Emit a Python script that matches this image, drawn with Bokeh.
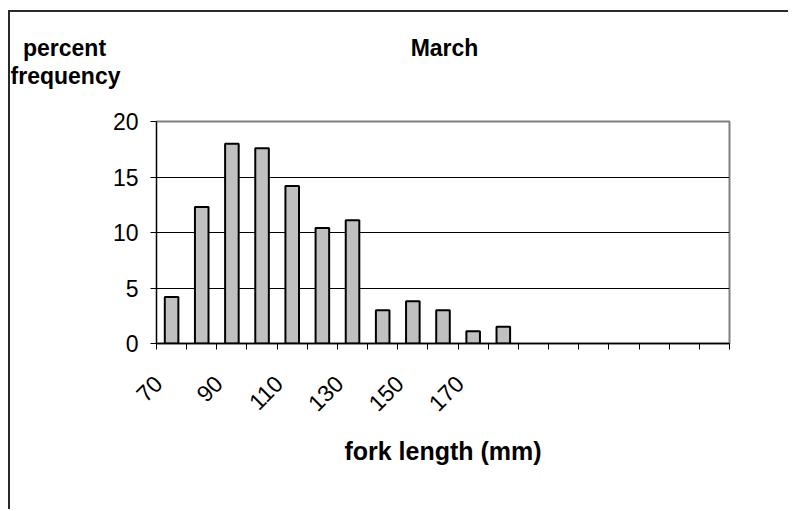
import math
from bokeh.plotting import figure
from bokeh.layouts import column
from bokeh.models import Range1d, FixedTicker, Label, ColumnDataSource
from bokeh.embed import file_html
from bokeh.resources import INLINE

# ---- data ----
categories = ["70", "80", "90", "100", "110", "120", "130", "140", "150", "160", "170", "180",
              "190", "200", "210", "220", "230", "240", "250"]
percent = [4.2, 12.3, 18.0, 17.6, 14.2, 10.4, 11.1, 3.0, 3.8, 3.0, 1.1, 1.5]
tick_labels = ["70", "", "90", "", "110", "", "130", "", "150", "", "170", "",
               "", "", "", "", "", "", ""]
y_ticks = [0, 5, 10, 15, 20]
title_text = "March"
y_title_lines = ["percent", "frequency"]
x_title = "fork length (mm)"

FONT = "Liberation Sans"
n = len(categories)
centers = [i + 0.5 for i in range(n)]
label_pos = [c - 0.45 for c in centers]   # rotated labels sit left of centre, as in the original

W = 778
TOP_H = 89
MAIN_H = 408

# ---- header strip holding the title and the horizontal y-axis title ----
top = figure(width=W, height=TOP_H, x_range=Range1d(0, W), y_range=Range1d(TOP_H, 0),
             output_backend="svg", toolbar_location=None, x_axis_type=None, y_axis_type=None,
             min_border=0, min_border_left=0, min_border_right=0, min_border_top=0,
             min_border_bottom=0, title=None)
try:
    top.frame_align = False
except Exception:
    pass
top.outline_line_color = None
top.xgrid.visible = False
top.ygrid.visible = False
top.border_fill_color = "white"
top.background_fill_color = "white"

header = [(y_title_lines[0], 54, 35), (y_title_lines[1], 55, 63), (title_text, 434, 35)]
for txt, xx, yy in header:
    top.add_layout(Label(x=xx, y=yy, text=txt, text_align="center", text_baseline="middle",
                         text_font=FONT, text_font_size="23px", text_font_style="bold",
                         text_color="black"))

# ---- main chart ----
src = ColumnDataSource(dict(x=centers[:len(percent)], top=percent, cat=categories[:len(percent)]))

p = figure(width=W, height=MAIN_H, x_range=Range1d(0, n), y_range=Range1d(0, 20),
           output_backend="svg", toolbar_location=None, title=None,
           min_border_left=146, min_border_top=20, min_border_right=59, min_border_bottom=166)
try:
    p.frame_align = False
except Exception:
    pass

p.vbar(x="x", top="top", width=0.45, bottom=0, source=src,
       fill_color="#C0C0C0", line_color="black", line_width=2)

p.outline_line_color = "#808080"
p.outline_line_width = 2
p.background_fill_color = "white"
p.border_fill_color = "white"

p.xgrid.visible = False
p.ygrid.ticker = FixedTicker(ticks=[5, 10, 15])
p.ygrid.grid_line_color = "black"
p.ygrid.grid_line_width = 1

p.yaxis.ticker = FixedTicker(ticks=y_ticks)
p.yaxis.major_tick_in = 0
p.yaxis.major_tick_out = 6
p.yaxis.minor_tick_line_color = None
p.yaxis.axis_line_color = "black"
p.yaxis.major_label_text_font = FONT
p.yaxis.major_label_text_font_size = "23px"
p.yaxis.major_label_text_color = "black"
p.yaxis.major_label_standoff = 12

p.xaxis.ticker = FixedTicker(ticks=label_pos, minor_ticks=list(range(n + 1)))
p.xaxis.major_label_overrides = {c: lab for c, lab in zip(label_pos, tick_labels)}
p.xaxis.major_tick_line_color = None
p.xaxis.minor_tick_in = 0
p.xaxis.minor_tick_out = 6
p.xaxis.minor_tick_line_color = "black"
p.xaxis.axis_line_color = "black"
p.xaxis.axis_line_width = 1.5
p.xaxis.major_label_orientation = math.pi / 4
p.xaxis.major_label_text_font = FONT
p.xaxis.major_label_text_font_size = "23px"
p.xaxis.major_label_text_color = "black"
p.xaxis.major_label_standoff = 30
p.xaxis.axis_label = x_title
p.xaxis.axis_label_text_font = FONT
p.xaxis.axis_label_text_font_size = "25px"
p.xaxis.axis_label_text_font_style = "bold"
p.xaxis.axis_label_text_color = "black"
p.xaxis.axis_label_standoff = 15

lay = column(top, p, spacing=0)
lay.styles = {"border-left": "2px solid #2a2a2a", "border-top": "2px solid #2a2a2a",
              "margin-top": "10px", "margin-left": "8px"}

open("out.html", "w").write(file_html(lay, INLINE))
